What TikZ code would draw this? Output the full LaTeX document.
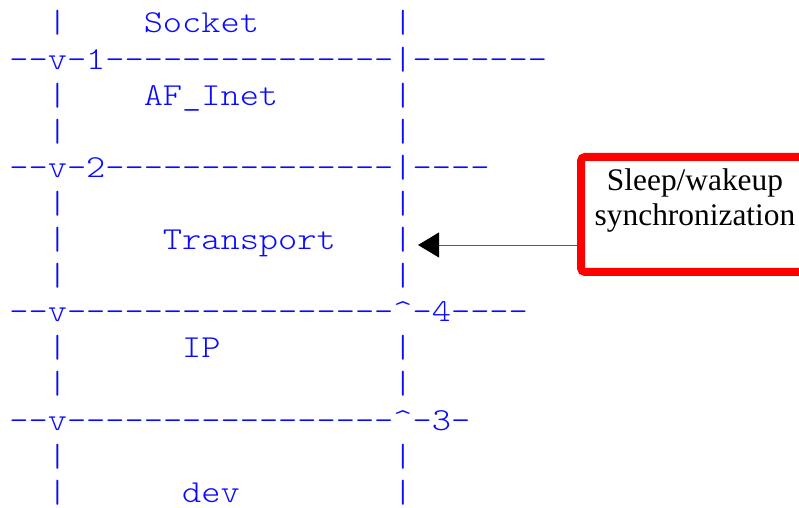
\documentclass[tikz,border=0pt]{standalone}
\usepackage{fontspec}
\setmainfont{Liberation Serif}
\newfontfamily\asciifont{lmmonolt10-regular.otf}[FakeStretch=1.143]
\usetikzlibrary{arrows.meta}
\definecolor{asciiblue}{RGB}{10,10,255}

\begin{document}
\begin{tikzpicture}[x=0.5pt, y=0.5pt,
    ascii/.style={anchor=base west, inner sep=0pt, text=asciiblue,
      font=\asciifont\fontsize{16}{18}\selectfont},
    syncbox/.style={draw=red, line width=4pt, rounded corners=2pt,
      minimum width=114pt, minimum height=57.5pt, align=center,
      font=\fontsize{15.7}{17.5}\selectfont},
    feed/.style={draw=black!65, line width=0.5pt,
      -{Triangle[length=10.5pt, width=12.5pt, color=black]}}]
  % One row of the text drawing: #1 = row number (from the top), #2 = its text.
  \newcommand{\asciirow}[2]{%
    \node[ascii] (row#1) at (9,475-36.1*#1) {#2};}

  \useasboundingbox (0,0) rectangle (799,508);
  \asciirow{0}{~~|~~~~Socket~~~~~~~|}
  \asciirow{1}{--v-1---------------|-------}
  \asciirow{2}{~~|~~~~AF\_Inet~~~~~~|}
  \asciirow{3}{~~|~~~~~~~~~~~~~~~~~|}
  \asciirow{4}{--v-2---------------|----}
  \asciirow{5}{~~|~~~~~~~~~~~~~~~~~|}
  \asciirow{6}{~~|~~~~~Transport~~~|}
  \asciirow{7}{~~|~~~~~~~~~~~~~~~~~|}
  \asciirow{8}{--v-----------------\textasciicircum-4----}
  \asciirow{9}{~~|~~~~~~IP~~~~~~~~~|}
  \asciirow{10}{~~|~~~~~~~~~~~~~~~~~|}
  \asciirow{11}{--v-----------------\textasciicircum-3-}
  \asciirow{12}{~~|~~~~~~~~~~~~~~~~~|}
  \asciirow{13}{~~|~~~~~~dev~~~~~~~~|}

  \node[syncbox] (sync) at (695,293.5) {Sleep/wakeup\\synchronization\\\mbox{}};
  \draw[feed] (sync.west |- row6.mid) -- ([xshift=2.5pt]row6.mid east);
\end{tikzpicture}
\end{document}
